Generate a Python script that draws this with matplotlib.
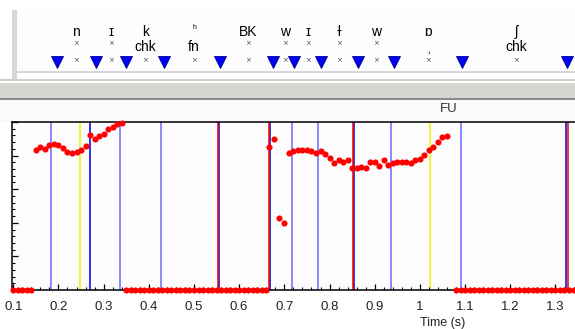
import numpy as np
import matplotlib.pyplot as plt
from matplotlib.patches import Rectangle
from matplotlib.ticker import MultipleLocator

W, H = 575, 329

# unvoiced frames, drawn on the baseline
zero_t = ([0.10, 0.11, 0.12, 0.13, 0.14]
          + [round(0.35 + 0.01 * i, 2) for i in range(32)]
          + [round(1.08 + 0.01 * i, 2) for i in range(28)])

# voiced pitch points
seg1_t = [round(0.15 + 0.01 * i, 2) for i in range(20)]
seg1_v = [4.17, 4.26, 4.20, 4.32, 4.35, 4.32, 4.23, 4.11, 4.08, 4.11,
          4.17, 4.29, 4.61, 4.49, 4.58, 4.64, 4.79, 4.85, 4.94, 4.97]
seg2_t = [0.665, 0.678, 0.688, 0.699]
seg2_v = [4.26, 4.49, 2.14, 1.99]
seg3_t = [round(0.71 + 0.01 * i, 2) for i in range(36)]
seg3_v = [4.08, 4.14, 4.17, 4.17, 4.17, 4.14, 4.08, 4.14, 4.05, 3.93,
          3.78, 3.87, 3.81, 3.87, 3.63, 3.63, 3.66, 3.63, 3.81, 3.81,
          3.69, 3.87, 3.72, 3.78, 3.81, 3.81, 3.81, 3.78, 3.87, 3.90,
          4.02, 4.17, 4.26, 4.40, 4.55, 4.58]

# boundary markers
light_blue = [0.184, 0.336, 0.426, 0.716, 0.775, 0.936, 1.090]
dark_blue = [0.269, 0.555, 0.669, 0.855, 1.324]
red_lines = [0.553, 0.667, 0.853, 1.327]
yellow_lines = [0.247, 1.023]

# transcription tier
tri_t = [0.198, 0.285, 0.352, 0.437, 0.562, 0.681, 0.728, 0.788,
         0.871, 0.951, 1.103, 1.338]
lab_t = [0.240, 0.318, 0.395, 0.504, 0.625, 0.707, 0.759, 0.828,
         0.911, 1.027, 1.224]
lab_top = ['n', 'ɪ', 'k', 'ʰ', 'BK', 'w', 'ɪ', 'ɫ', 'w', 'ɒ', 'ʃ']
lab_mid = ['×', '×', 'chk', 'fn', '×', '×', '×', '×', '×', 'ˌ', 'chk']

xmin, xmax = 0.0972, 1.356
sans = ['Liberation Sans', 'DejaVu Sans']

fig = plt.figure(figsize=(W / 100, H / 100), dpi=100, facecolor='white')

# window chrome in pixel coordinates
bg = fig.add_axes([0, 0, 1, 1], zorder=0)
bg.set_xlim(0, W)
bg.set_ylim(H, 0)
bg.axis('off')
bg.add_patch(Rectangle((17, 10), W - 17, 61, facecolor='#fdfdfd', edgecolor='none'))
bg.add_patch(Rectangle((12, 10), 5, 71, facecolor='#d8d8d2', edgecolor='none'))
bg.plot([17, W], [71.5, 71.5], color='#cfcfcf', lw=1.2)
bg.plot([0, W], [80, 80], color='#d0d0cc', lw=1.5)
bg.add_patch(Rectangle((0, 83), W, 15, facecolor='#d6d6d2', edgecolor='none'))
bg.plot([0, W], [99, 99], color='#8a8a8a', lw=1.5)
bg.add_patch(Rectangle((0, 101), W, 21, facecolor='#fafafa', edgecolor='none'))

# tier axes
top = fig.add_axes([0, 1 - 71 / H, 1, 61 / H], zorder=1)
top.set_xlim(0.2 + (0 - 58) / 447.3, 0.2 + (W - 58) / 447.3)
top.set_ylim(71, 10)
top.axis('off')
top.plot(tri_t, [62] * len(tri_t), linestyle='none', marker='v', markersize=8,
         markerfacecolor='#0000ff', markeredgecolor='#000080', markeredgewidth=0.6)
for t, a, b in zip(lab_t, lab_top, lab_mid):
    if a == 'ʰ':
        top.text(t, 28, a, ha='center', va='center', fontsize=7, family=sans)
    else:
        top.text(t, 32, a, ha='center', va='center', fontsize=10, family=sans)
    if b == '×':
        top.text(t, 43, b, ha='center', va='center', fontsize=5, color='#444444')
    else:
        top.text(t, 47, b, ha='center', va='center', fontsize=10, family=sans)
    top.text(t, 60, '×', ha='center', va='center', fontsize=5, color='#444444')

# pitch axes
ax = fig.add_axes([12 / W, 1 - 290 / H, 1 - 12 / W + 0.01, 168 / H], zorder=2)
ax.set_facecolor('#fcfcfc')
ax.set_xlim(xmin, xmax)
ax.set_ylim(0, 5)

for t in light_blue:
    ax.axvline(t, color='#6b6bff', lw=1.1, zorder=1)
for t in dark_blue:
    ax.axvline(t, color='#0000d8', lw=1.1, zorder=1)
for t in red_lines:
    ax.axvline(t, color='#ee0000', lw=1.1, zorder=1)
for t in yellow_lines:
    ax.axvline(t, color='#f2f200', lw=1.1, zorder=1)

dot = dict(linestyle='none', marker='o', markersize=4.4, color='#ff0000',
           markeredgewidth=0, zorder=3, clip_on=False)
ax.plot(zero_t, [0] * len(zero_t), **dot)
ax.plot(seg1_t, seg1_v, **dot)
ax.plot(seg2_t, seg2_v, **dot)
ax.plot(seg3_t, seg3_v, **dot)

for s in ['left', 'bottom', 'top']:
    ax.spines[s].set_linewidth(1.1)
    ax.spines[s].set_color('black')
ax.spines['right'].set_visible(False)

ax.xaxis.set_major_locator(MultipleLocator(0.1))
ax.xaxis.set_minor_locator(MultipleLocator(0.02))
ax.yaxis.set_major_locator(MultipleLocator(1))
ax.yaxis.set_minor_locator(MultipleLocator(0.2))
ax.tick_params(axis='x', which='major', direction='in', length=4, width=0.9, pad=8,
               labelsize=9.5, top=False)
ax.tick_params(axis='x', which='minor', direction='in', length=2, width=0.8, top=False)
ax.tick_params(axis='y', which='major', direction='in', length=4, width=0.9,
               labelleft=False, right=False)
ax.tick_params(axis='y', which='minor', direction='in', length=2, width=0.8, right=False)
ax.set_xticks(np.round(np.arange(0.1, 1.35, 0.1), 1))
ax.set_xticklabels(['0.1', '0.2', '0.3', '0.4', '0.5', '0.6', '0.7', '0.8', '0.9',
                    '1', '1.1', '1.2', '1.3'], family=sans)
for lbl in ax.get_xticklabels():
    lbl.set_color('#222222')

fig.text(443 / W, 1 - 323 / H, 'Time (s)', ha='center', va='center', fontsize=9,
         family=sans, color='#222222')
fig.text(449 / W, 1 - 109 / H, 'FU', ha='center', va='center', fontsize=9.5,
         family=sans, color='#333333')

fig.savefig('out.png', dpi=100, facecolor='white')
